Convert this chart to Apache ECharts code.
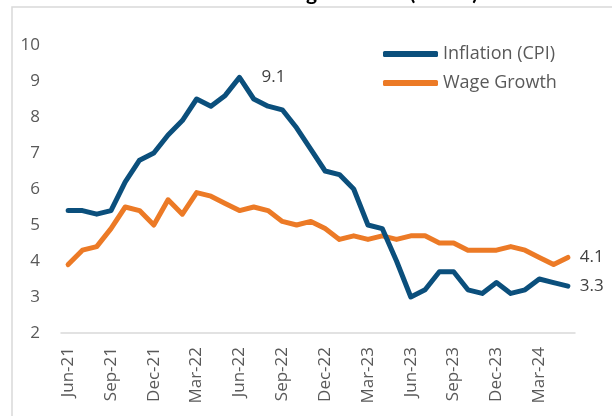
<!DOCTYPE html>
<html>
<head>
<meta charset="utf-8">
<script src="https://cdn.jsdelivr.net/npm/echarts@6/dist/echarts.min.js"></script>
<style>
  html, body { margin: 0; padding: 0; background: #fff; }
  #chart { width: 612px; height: 416px; }
</style>
</head>
<body>
<div id="chart"></div>
<script>
// monthly, Jun-21 .. May-24
var months = ['Jun-21', 'Jul-21', 'Aug-21', 'Sep-21', 'Oct-21', 'Nov-21', 'Dec-21',
  'Jan-22', 'Feb-22', 'Mar-22', 'Apr-22', 'May-22', 'Jun-22', 'Jul-22', 'Aug-22', 'Sep-22', 'Oct-22', 'Nov-22', 'Dec-22',
  'Jan-23', 'Feb-23', 'Mar-23', 'Apr-23', 'May-23', 'Jun-23', 'Jul-23', 'Aug-23', 'Sep-23', 'Oct-23', 'Nov-23', 'Dec-23',
  'Jan-24', 'Feb-24', 'Mar-24', 'Apr-24', 'May-24'];
var inflation = [5.4, 5.4, 5.3, 5.4, 6.2, 6.8, 7.0,
  7.5, 7.9, 8.5, 8.3, 8.6, 9.1, 8.5, 8.3, 8.2, 7.7, 7.1, 6.5,
  6.4, 6.0, 5.0, 4.9, 4.0, 3.0, 3.2, 3.7, 3.7, 3.2, 3.1, 3.4,
  3.1, 3.2, 3.5, 3.4, 3.3];
var wageGrowth = [3.9, 4.3, 4.4, 4.9, 5.5, 5.4, 5.0,
  5.7, 5.3, 5.9, 5.8, 5.6, 5.4, 5.5, 5.4, 5.1, 5.0, 5.1, 4.9,
  4.6, 4.7, 4.6, 4.7, 4.6, 4.7, 4.7, 4.5, 4.5, 4.3, 4.3, 4.3,
  4.4, 4.3, 4.1, 3.9, 4.1];
var yTicks = [2, 10, 1]; // min, max, step

var font = '"Open Sans", Lato, sans-serif';
var blue = '#0B4F7C';
var orange = '#EC7A26';

// show a value label on the peak and on the last point
var withLabels = function (values, idxs, dist) {
  return values.map(function (v, i) {
    if (idxs.indexOf(i) < 0) return v;
    return {value: v, label: {show: true, position: 'right', distance: i === values.length - 1 ? 12 : dist,
      color: '#404040', fontFamily: font, fontSize: 17, formatter: function (p) { return p.value.toFixed(1); }}};
  });
};
var peakIdx = inflation.indexOf(Math.max.apply(null, inflation));

var chart = echarts.init(document.getElementById('chart'));
chart.setOption({
  animation: false,
  backgroundColor: '#fff',
  graphic: [
    {type: 'rect', shape: {x: 12, y: 7, width: 700, height: 500},
      style: {fill: 'none', stroke: '#d9d9d9', lineWidth: 1.5}, silent: true},
    {type: 'text', x: 478, y: 4,
      style: {text: 'Inflation vs. Wage Growth (YoY %)', font: 'bold 21px Lato, sans-serif', fill: '#000',
        align: 'right', verticalAlign: 'bottom'}}
  ],
  grid: {left: 61, right: 37, top: 45, bottom: 83, containLabel: false},
  legend: {
    orient: 'vertical', left: 378, top: 40, itemWidth: 55, itemHeight: 6, itemGap: 11,
    icon: 'roundRect',
    textStyle: {color: '#595959', fontFamily: font, fontSize: 18},
    data: ['Inflation (CPI)', 'Wage Growth']
  },
  xAxis: {
    type: 'category', data: months, boundaryGap: true,
    axisLine: {lineStyle: {color: '#d9d9d9', width: 1.5}},
    axisTick: {interval: 2, length: 6, lineStyle: {color: '#d9d9d9', width: 1.5}},
    axisLabel: {interval: 2, rotate: 90, margin: 14, color: '#595959', fontFamily: font, fontSize: 17}
  },
  yAxis: {
    type: 'value', min: yTicks[0], max: yTicks[1], interval: yTicks[2],
    axisLine: {show: false}, axisTick: {show: false}, splitLine: {show: false},
    axisLabel: {margin: 21, color: '#595959', fontFamily: font, fontSize: 17}
  },
  series: [
    {name: 'Inflation (CPI)', type: 'line', data: withLabels(inflation, [peakIdx, inflation.length - 1], 22),
      showSymbol: true, symbol: 'circle', symbolSize: 0, color: blue,
      lineStyle: {width: 5, color: blue, cap: 'round', join: 'round'}, z: 3},
    {name: 'Wage Growth', type: 'line', data: withLabels(wageGrowth, [wageGrowth.length - 1], 12),
      showSymbol: true, symbol: 'circle', symbolSize: 0, color: orange,
      lineStyle: {width: 5, color: orange, cap: 'round', join: 'round'}, z: 2}
  ]
});
</script>
</body>
</html>
